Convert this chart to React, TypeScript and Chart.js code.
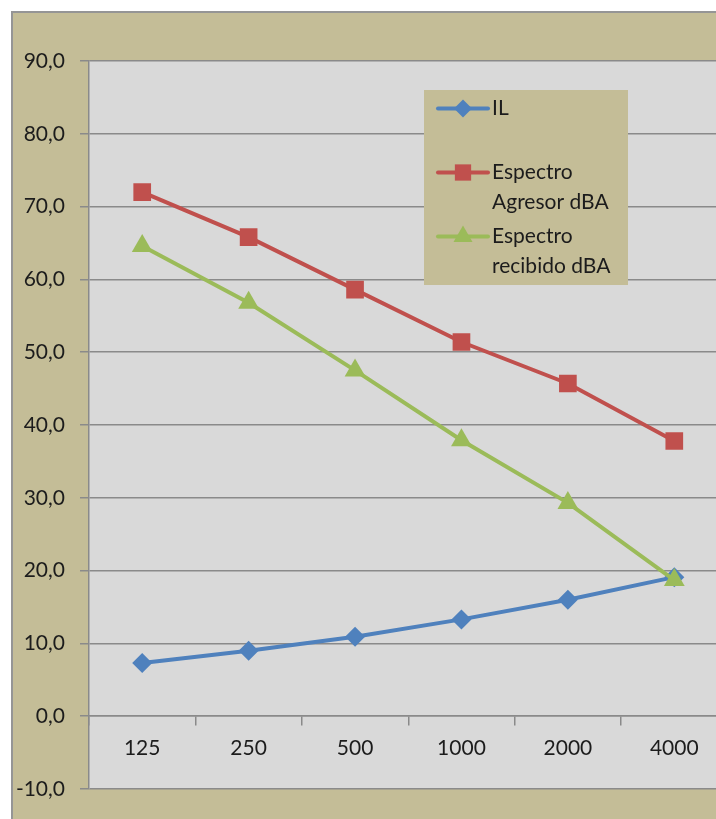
import { useEffect, useRef } from "react";
import { Chart, registerables } from "chart.js";

Chart.register(...registerables);

// Octave-band centre frequencies (Hz)
const frequencies = ["125", "250", "500", "1000", "2000", "4000"];

// Series values (dB)
const ilValues = [7.3, 9.0, 10.9, 13.3, 16.0, 19.1];
const agresorValues = [72.0, 65.8, 58.6, 51.4, 45.7, 37.8];
const recibidoValues = [64.6, 56.8, 47.5, 37.9, 29.3, 18.7];

const seriesLabels = ["IL", "Espectro Agresor dBA", "Espectro recibido dBA"];

// Value axis
const yMin = -10;
const yMax = 90;
const yStep = 10;

const FONT = "Lato";
const TEXT = "#1c1c1c";
const GRID = "#8a8a8a";
const TAN = "#C4BD97";
const PLOT_BG = "#D9D9D9";

type Marker = "rect" | "rectRot" | "triangle";

function drawMarker(
  ctx: CanvasRenderingContext2D,
  style: Marker,
  x: number,
  y: number,
  r: number,
  color: string
) {
  ctx.fillStyle = color;
  ctx.beginPath();
  if (style === "rect") {
    const s = r * Math.SQRT1_2;
    ctx.rect(x - s, y - s, 2 * s, 2 * s);
  } else if (style === "rectRot") {
    ctx.moveTo(x, y - r);
    ctx.lineTo(x + r, y);
    ctx.lineTo(x, y + r);
    ctx.lineTo(x - r, y);
    ctx.closePath();
  } else {
    let a = 0;
    ctx.moveTo(x + Math.sin(a) * r, y - Math.cos(a) * r);
    a += (2 * Math.PI) / 3;
    ctx.lineTo(x + Math.sin(a) * r, y - Math.cos(a) * r);
    a += (2 * Math.PI) / 3;
    ctx.lineTo(x + Math.sin(a) * r, y - Math.cos(a) * r);
    ctx.closePath();
  }
  ctx.fill();
}

function wrapWords(ctx: CanvasRenderingContext2D, text: string, maxWidth: number) {
  const words = text.split(" ");
  const lines: string[] = [];
  let cur = "";
  for (const w of words) {
    const next = cur ? cur + " " + w : w;
    if (cur && ctx.measureText(next).width > maxWidth) {
      lines.push(cur);
      cur = w;
    } else {
      cur = next;
    }
  }
  if (cur) lines.push(cur);
  return lines;
}

// Frame, plot background and the boxed legend
const decorPlugin = {
  id: "decor",
  beforeDraw(chart: any) {
    const { ctx, width, height, chartArea } = chart;
    ctx.save();
    ctx.fillStyle = "#ffffff";
    ctx.fillRect(0, 0, width, height);
    ctx.fillStyle = TAN;
    ctx.fillRect(12, 12, width - 12, height - 12);
    ctx.strokeStyle = "#959595";
    ctx.lineWidth = 2;
    ctx.beginPath();
    ctx.moveTo(12, height);
    ctx.lineTo(12, 12);
    ctx.lineTo(width, 12);
    ctx.stroke();
    ctx.fillStyle = PLOT_BG;
    ctx.fillRect(
      chartArea.left,
      chartArea.top,
      chartArea.right - chartArea.left,
      chartArea.bottom - chartArea.top
    );
    ctx.restore();
  },
  afterDraw(chart: any) {
    const { ctx } = chart;
    const boxX = 424;
    const boxY = 90;
    const boxW = 204;
    const boxH = 195;
    ctx.save();
    ctx.fillStyle = TAN;
    ctx.fillRect(boxX, boxY, boxW, boxH);
    ctx.font = `21px ${FONT}`;
    ctx.textBaseline = "middle";
    ctx.textAlign = "left";
    chart.data.datasets.forEach((ds: any, i: number) => {
      const cy = boxY + 18.5 + i * 64;
      ctx.strokeStyle = ds.borderColor;
      ctx.lineWidth = ds.borderWidth;
      ctx.lineCap = "round";
      ctx.beginPath();
      ctx.moveTo(boxX + 14, cy);
      ctx.lineTo(boxX + 64, cy);
      ctx.stroke();
      drawMarker(ctx, ds.pointStyle, boxX + 39, cy, ds.pointRadius - 1, ds.backgroundColor);
      ctx.fillStyle = TEXT;
      const lines = wrapWords(ctx, ds.label, 130);
      lines.forEach((ln, j) => ctx.fillText(ln, boxX + 68, cy + j * 30));
    });
    ctx.restore();
  },
};

export default function App() {
  const canvasRef = useRef<HTMLCanvasElement | null>(null);

  useEffect(() => {
    const canvas = canvasRef.current;
    if (!canvas) return;
    const chart = new Chart(canvas, {
      type: "line",
      data: {
        labels: frequencies,
        datasets: [
          {
            label: seriesLabels[0],
            data: ilValues,
            borderColor: "#4F81BD",
            backgroundColor: "#4F81BD",
            borderWidth: 4,
            pointStyle: "rectRot",
            pointRadius: 10,
            pointBorderWidth: 0,
            order: 3,
          },
          {
            label: seriesLabels[1],
            data: agresorValues,
            borderColor: "#C0504D",
            backgroundColor: "#C0504D",
            borderWidth: 4,
            pointStyle: "rect",
            pointRadius: 12.5,
            pointBorderWidth: 0,
            order: 2,
          },
          {
            label: seriesLabels[2],
            data: recibidoValues,
            borderColor: "#9BBB59",
            backgroundColor: "#9BBB59",
            borderWidth: 4,
            pointStyle: "triangle",
            pointRadius: 12,
            pointBorderWidth: 0,
            order: 1,
          },
        ],
      },
      options: {
        responsive: false,
        maintainAspectRatio: false,
        animation: false,
        layout: { padding: { left: 0, top: 61, right: 11, bottom: 30 } },
        plugins: {
          legend: { display: false },
          tooltip: { enabled: false },
        },
        elements: { line: { tension: 0 } },
        scales: {
          y: {
            min: yMin,
            max: yMax,
            ticks: {
              stepSize: yStep,
              padding: 15,
              color: TEXT,
              font: { family: FONT, size: 21 },
              callback: (v: any) => Number(v).toFixed(1).replace(".", ","),
            },
            grid: { color: GRID, lineWidth: 1.5, tickLength: 9 },
            border: { color: GRID, width: 1.5 },
            afterFit: (s: any) => {
              s.width = 89;
            },
          },
          x: {
            type: "category",
            position: { y: 0 } as any,
            offset: true,
            ticks: {
              padding: 10,
              maxRotation: 0,
              color: TEXT,
              font: { family: FONT, size: 21 },
            },
            grid: {
              drawOnChartArea: false,
              offset: true,
              tickLength: 9,
              color: GRID,
              lineWidth: 1.5,
            },
            border: { color: GRID, width: 1.5 },
            afterFit: (s: any) => {
              s.height = 0;
            },
          },
        },
      },
      plugins: [decorPlugin],
    });
    return () => chart.destroy();
  }, []);

  return (
    <div
      style={{
        position: "fixed",
        left: 0,
        top: 0,
        width: 716,
        height: 819,
        overflow: "hidden",
        background: "#ffffff",
      }}
    >
      <canvas ref={canvasRef} width={740} height={819} style={{ display: "block" }} />
    </div>
  );
}
